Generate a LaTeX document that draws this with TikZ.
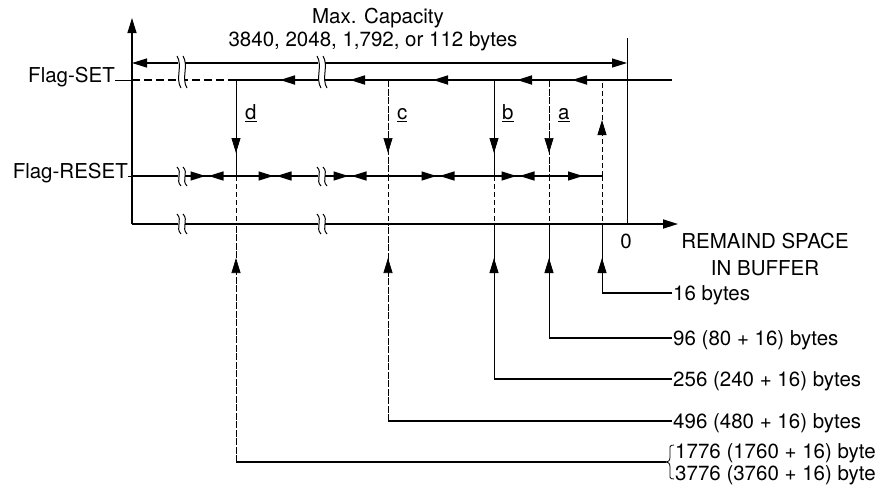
\documentclass[tikz,border=0pt]{standalone}
\usepackage{fontspec}
\setmainfont{TeX Gyre Heros}
\usetikzlibrary{arrows.meta,decorations.markings}
\newcommand\brkmark[3]{%
  \fill[white] ({#1-2},#2) rectangle ({#1+5},#3);
  \draw[line width=1pt] ({#1-3},#2) .. controls ({#1+3},{#2+0.3*(#3-#2)}) and ({#1-5},{#2+0.7*(#3-#2)}) .. ({#1+1},#3);
  \draw[line width=1pt] ({#1+3},#2) .. controls ({#1+9},{#2+0.3*(#3-#2)}) and ({#1+1},{#2+0.7*(#3-#2)}) .. ({#1+7},#3);
}
\begin{document}
\begin{tikzpicture}[x=1pt,y=-1pt,
  lbl/.style={font=\fontsize{20.5}{24}\selectfont, inner sep=0pt},
  thk/.style={line width=1.7pt},
  med/.style={line width=1.2pt},
  thn/.style={line width=0.8pt},
  dsh/.style={line width=0.8pt, dash pattern=on 5pt off 3pt},
  fdsh/.style={line width=0.7pt, dash pattern=on 7pt off 1.5pt},
  tipend/.style={-{Triangle[length=15pt,width=9pt]}},
  midtip/.style={postaction={decorate},decoration={markings,mark=at position #1 with {\arrow{Triangle[length=15pt,width=9pt]}}}},
]
\useasboundingbox (0,0) rectangle (888,491);

% axes
\coordinate (O) at (132,224);
\coordinate (Ytop) at (132,18);
\coordinate (Xend) at (678,224);
\draw[med,tipend] (O) -- (Ytop);
\draw[thk,tipend] (O) -- (Xend);

% zero line
\coordinate (Z0) at (627,38);
\coordinate (Z1) at (627,224);
\draw[thn] (Z0) -- (Z1);

% top dimension line
\coordinate (T0) at (132,63);
\coordinate (T1) at (627,63);
\draw[med,{Triangle[length=15pt,width=9pt]}-{Triangle[length=15pt,width=9pt]}] (T0) -- (T1);
\node[lbl,anchor=base] (cap1) at (378,23) {Max. Capacity};
\node[lbl,anchor=base] (cap2) at (373,46) {3840, 2048, 1,792, or 112 bytes};

% Flag-SET
\node[lbl,anchor=mid east] (fs) at (115,80) {Flag-SET};
\coordinate (S0) at (132,80);
\coordinate (S1) at (228,80);
\coordinate (S2) at (672,80);
\draw[thn] (fs.mid east) -- (S0);
\draw[med, dash pattern=on 8pt off 4pt] (S0) -- (S1);
\draw[thk] (S1) -- (S2);

% Flag-RESET
\node[lbl,anchor=mid east] (fr) at (128,176) {Flag-RESET};
\coordinate (R0) at (132,176);
\coordinate (R1) at (602,176);
\draw[thn] (fr.mid east) -- (R0);
\draw[med] (R0) -- (R1);

% break marks
\brkmark{180}{56}{88}
\brkmark{320}{56}{88}
\brkmark{180}{167}{186}
\brkmark{320}{167}{186}
\brkmark{180}{214}{234}
\brkmark{320}{214}{234}

% arrowheads on Flag-SET
\foreach \t in {280,350,433,517,572}
  \draw[thk,tipend] (\t+15,80) -- (\t,80);
% arrowheads on Flag-RESET
\foreach \m in {207,275,350,438,518} {
  \draw[med,tipend] (\m-17,176) -- (\m-1.5,176);
  \draw[med,tipend] (\m+17,176) -- (\m+1.5,176);
}
\draw[med,tipend] (567,176) -- (583,176);

% vertical marks
\foreach \n/\x/\yl in {d/236/462, c/388/421, b/494/379, a/549/338, s/602/293} {
  \coordinate (\n S) at (\x,80);
  \coordinate (\n R) at (\x,176);
  \coordinate (\n A) at (\x,224);
  \coordinate (\n L) at (\x,\yl);
}
\coordinate (dE) at (666,462);
\coordinate (cE) at (672,421);
\coordinate (bE) at (672,379);
\coordinate (aE) at (672,338);
\coordinate (sE) at (672,293);

% between Flag-SET and Flag-RESET
\draw[thn, midtip=73pt] (dS) -- (dR);
\draw[fdsh, midtip=73pt] (cS) -- (cR);
\draw[thn, midtip=73pt] (bS) -- (bR);
\draw[fdsh, midtip=73pt] (aS) -- (aR);
\draw[dsh, midtip=56pt] (sR) -- (sS);

% between Flag-RESET and axis
\foreach \n in {d,c,b,a,s}
  \draw[dsh] (\n R) -- (\n A);

% below axis
\draw[fdsh, midtip=204pt] (dL) -- (dA);
\draw[fdsh, midtip=163pt] (cL) -- (cA);
\draw[thn, midtip=121pt] (bL) -- (bA);
\draw[thn, midtip=80pt] (aL) -- (aA);
\draw[thn, midtip=35pt] (sL) -- (sA);
\foreach \n in {d,c,b,a,s}
  \draw[med] (\n L) -- (\n E);

% letters
\node[lbl,anchor=base west] (ld) at (245,119) {\underline{d}};
\node[lbl,anchor=base west] (lc) at (397,119) {\underline{c}};
\node[lbl,anchor=base west] (lb) at (502,119) {\underline{b}};
\node[lbl,anchor=base west] (la) at (558,119) {\underline{a}};

% axis labels
\node[lbl,anchor=base] (zero) at (626,248) {0};
\node[lbl,anchor=base] (rs1) at (765,248) {REMAIND SPACE};
\node[lbl,anchor=base] (rs2) at (765,275) {IN BUFFER};

% byte labels
\node[lbl,anchor=base west] (t16) at (673,300) {16 bytes};
\node[lbl,anchor=base west] (t96) at (673,345) {96 (80 + 16) bytes};
\node[lbl,anchor=base west] (t256) at (673,386) {256 (240 + 16) bytes};
\node[lbl,anchor=base west] (t496) at (673,428) {496 (480 + 16) bytes};

% brace
\draw[thn] (674,445) .. controls (669,445) and (670,447) .. (670,452) -- (670,457)
  .. controls (670,461) and (668,462) .. (dE)
  .. controls (668,462) and (670,463) .. (670,467) -- (670,472)
  .. controls (670,477) and (669,479) .. (674,479);
\node[lbl,anchor=base west] (t1776) at (675,458) {1776 (1760 + 16) byte};
\node[lbl,anchor=base west] (t3776) at (675,480) {3776 (3760 + 16) byte};
\end{tikzpicture}
\end{document}
